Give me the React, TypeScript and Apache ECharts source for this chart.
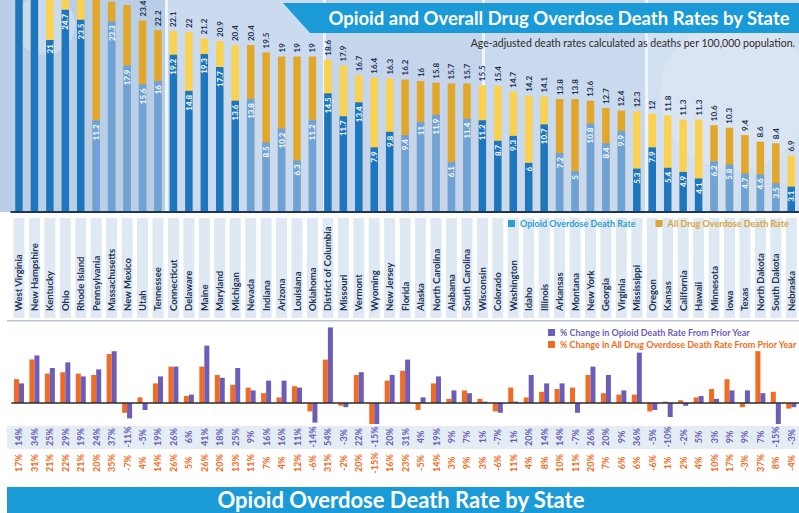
import React, { useEffect, useRef } from "react";
import * as echarts from "echarts";

const states = [
  "West Virginia", "New Hampshire", "Kentucky", "Ohio", "Rhode Island", "Pennsylvania", "Massachusetts",
  "New Mexico", "Utah", "Tennessee", "Connecticut", "Delaware", "Maine", "Maryland", "Michigan", "Nevada",
  "Indiana", "Arizona", "Louisiana", "Oklahoma", "District of Columbia", "Missouri", "Vermont", "Wyoming",
  "New Jersey", "Florida", "Alaska", "North Carolina", "Alabama", "South Carolina", "Wisconsin", "Colorado",
  "Washington", "Idaho", "Illinois", "Arkansas", "Montana", "New York", "Georgia", "Virginia", "Mississippi",
  "Oregon", "Kansas", "California", "Hawaii", "Minnesota", "Iowa", "Texas", "North Dakota", "South Dakota",
  "Nebraska",
];

const allDrugRate = [
  41.5, 34.3, 29.9, 29.9, 28.2, 26.3, 25.7, 25.3, 23.4, 22.2, 22.1, 22, 21.2, 20.9, 20.4, 20.4, 19.5, 19, 19, 19,
  18.6, 17.9, 16.7, 16.4, 16.3, 16.2, 16, 15.8, 15.7, 15.7, 15.5, 15.4, 14.7, 14.2, 14.1, 13.8, 13.8, 13.6, 12.7,
  12.4, 12.3, 12, 11.8, 11.3, 11.3, 10.6, 10.3, 9.4, 8.6, 8.4, 6.9,
];

const opioidRate = [
  36.0, 31.3, 21, 24.7, 23.5, 11.2, 23.3, 17.9, 15.6, 16.0, 19.2, 14.8, 19.3, 17.7, 13.6, 13.8, 8.5, 10.2, 6.3,
  11.2, 14.5, 11.7, 13.4, 7.9, 9.8, 9.4, 11, 11.9, 6.1, 11.4, 11.2, 8.7, 9.3, 6, 10.7, 7.2, 5, 10.8, 8.4, 9.9, 5.3,
  7.9, 5.4, 4.9, 4.1, 6.2, 5.8, 4.7, 4.6, 3.5, 3.1,
];

const opioidChange = [
  14, 34, 25, 29, 19, 24, 37, -11, -5, 19, 26, 6, 41, 18, 25, 9, 16, 16, 11, -14, 54, -3, 22, -15, 20, 31, 4, 19,
  9, 7, 1, -7, 1, 20, 14, 14, -7, 26, 20, 9, 36, -5, -10, -2, 5, 3, 9, 9, 7, -15, -3,
];

const allDrugChange = [
  17, 31, 21, 22, 21, 20, 35, -7, 4, 14, 26, 5, 26, 20, 13, 11, 7, 4, 12, -6, 31, -2, 20, -15, 16, 23, -5, 14, 3,
  9, 3, -6, 11, 4, 8, 10, 11, 20, 7, 6, 6, -6, 1, 2, 4, 10, 17, -3, 37, 8, -4,
];

const FONT = "Lato";
const GRID_LEFT = 11.25;
const GRID_WIDTH = 790.5;
const Y_MAX = 25.9;

export default function App() {
  const ref = useRef<HTMLDivElement>(null);

  useEffect(() => {
    if (!ref.current) return;
    const chart = echarts.init(ref.current, null, { renderer: "svg" });
    const even = (i: number) => Math.floor(i / 5) % 2 === 0;

    // labels whose position would fall beyond the visible top of the plot are not shown (as in the original crop)
    const totalData = allDrugRate.map((v, i) => ({
      value: v,
      itemStyle: { color: even(i) ? "#fbd24f" : "#e2a729" },
      label: { show: v < Y_MAX - 1.5 },
    }));
    const opioidData = opioidRate.map((v, i) => ({
      value: v,
      itemStyle: { color: even(i) ? "#1c76c0" : "#6ea3da" },
      label: { show: v < Y_MAX },
    }));

    const panel = (x: number, w: number, fill: string) => ({
      type: "rect",
      z: -10,
      shape: { x, y: 0, width: w, height: 212 },
      style: { fill },
      silent: true,
    });

    const option = {
      animation: false,
      backgroundColor: "#ffffff",
      textStyle: { fontFamily: FONT },
      grid: [
        { left: GRID_LEFT, width: GRID_WIDTH, top: 0, height: 212 },
        { left: GRID_LEFT, width: GRID_WIDTH, top: 218, height: 100 },
        { left: GRID_LEFT, width: GRID_WIDTH, top: 319, height: 112 },
      ],
      legend: [
        {
          left: 503,
          top: 214,
          itemWidth: 7,
          itemHeight: 7,
          itemGap: 20,
          icon: "rect",
          selectedMode: false,
          z: 20,
          textStyle: { fontSize: 9, fontWeight: "bold", fontFamily: FONT },
          data: [
            { name: "Opioid Overdose Death Rate", textStyle: { color: "#2a9fd6" } },
            { name: "All Drug Overdose Death Rate", textStyle: { color: "#d9a53a" } },
          ],
        },
        {
          left: 543,
          top: 323,
          orient: "vertical",
          itemWidth: 7,
          itemHeight: 7,
          itemGap: 3,
          icon: "rect",
          selectedMode: false,
          textStyle: { fontSize: 9, fontWeight: "bold", fontFamily: FONT },
          data: [
            { name: "% Change in Opioid Death Rate From Prior Year", textStyle: { color: "#6c5db8" } },
            { name: "% Change in All Drug Overdose Death Rate From Prior Year", textStyle: { color: "#f26b22" } },
          ],
        },
      ],
      xAxis: [
        {
          gridIndex: 0,
          type: "category",
          data: states,
          z: 20,
          axisLine: { lineStyle: { color: "#1d3557", width: 2 } },
          axisTick: { show: false },
          axisLabel: {
            interval: 0,
            rotate: 90,
            align: "left",
            verticalAlign: "middle",
            margin: 99,
            color: "#22335a",
            fontSize: 9.5,
            fontWeight: "bold",
            fontFamily: FONT,
          },
        },
        { gridIndex: 1, type: "category", data: states, show: false },
        {
          gridIndex: 2,
          type: "category",
          data: states,
          position: "bottom",
          axisLine: { show: false, onZero: false },
          axisTick: { show: false },
          axisLabel: {
            interval: 0,
            rotate: 90,
            align: "center",
            verticalAlign: "middle",
            margin: 6,
            color: "#6c5db8",
            fontSize: 9,
            fontWeight: "bold",
            fontFamily: FONT,
            formatter: (_v: string, i: number) => opioidChange[i] + "%",
          },
        },
        {
          gridIndex: 2,
          type: "category",
          data: states,
          position: "bottom",
          offset: 26,
          axisLine: { show: false, onZero: false },
          axisTick: { show: false },
          axisLabel: {
            interval: 0,
            rotate: 90,
            align: "center",
            verticalAlign: "middle",
            margin: 6,
            color: "#f26b22",
            fontSize: 9,
            fontWeight: "bold",
            fontFamily: FONT,
            formatter: (_v: string, i: number) => allDrugChange[i] + "%",
          },
        },
      ],
      yAxis: [
        { gridIndex: 0, type: "value", min: 0, max: Y_MAX, show: false },
        { gridIndex: 1, type: "value", min: 0, max: 1, show: false },
        { gridIndex: 2, type: "value", min: -20, max: 60, show: false },
      ],
      series: [
        {
          name: "stripes",
          type: "bar",
          xAxisIndex: 1,
          yAxisIndex: 1,
          data: states.map(() => 1),
          barWidth: 11,
          silent: true,
          itemStyle: { color: "#dfe9f3" },
          z: 1,
        },
        {
          name: "All Drug Overdose Death Rate",
          type: "bar",
          xAxisIndex: 0,
          yAxisIndex: 0,
          barWidth: 7.5,
          clip: false,
          data: totalData,
          itemStyle: { color: "#d9a53a" },
          label: {
            show: true,
            position: "top",
            rotate: 90,
            align: "left",
            verticalAlign: "middle",
            distance: 4,
            color: "#1e2f50",
            fontSize: 8,
            fontWeight: "bold",
            fontFamily: FONT,
          },
        },
        {
          name: "Opioid Overdose Death Rate",
          type: "bar",
          xAxisIndex: 0,
          yAxisIndex: 0,
          barWidth: 7.5,
          barGap: "-100%",
          clip: false,
          data: opioidData,
          itemStyle: { color: "#2a9fd6" },
          label: {
            show: true,
            position: "insideTop",
            rotate: 90,
            align: "right",
            verticalAlign: "middle",
            distance: 4,
            color: "#ffffff",
            fontSize: 8,
            fontWeight: "bold",
            fontFamily: FONT,
          },
        },
        {
          name: "% Change in All Drug Overdose Death Rate From Prior Year",
          type: "bar",
          xAxisIndex: 2,
          yAxisIndex: 2,
          barWidth: 5,
          barGap: "0%",
          data: allDrugChange,
          itemStyle: { color: "#f26b22" },
        },
        {
          name: "% Change in Opioid Death Rate From Prior Year",
          type: "bar",
          xAxisIndex: 2,
          yAxisIndex: 2,
          barWidth: 5,
          barGap: "0%",
          data: opioidChange,
          itemStyle: { color: "#6c5db8" },
          markLine: {
            silent: true,
            symbol: "none",
            label: { show: false },
            lineStyle: { color: "#2d2d2d", width: 1.5, type: "solid" },
            data: [{ yAxis: 0 }],
          },
        },
      ],
      graphic: [
        panel(0, 165, "#b9cfe8"),
        panel(165, 3, "#eef4fb"),
        panel(168, 155, "#cbdbef"),
        panel(323, 3, "#eef4fb"),
        panel(326, 156, "#c4d5ec"),
        panel(482, 3, "#eef4fb"),
        panel(485, 160, "#c9d9ee"),
        panel(645, 3, "#eef4fb"),
        panel(648, 151, "#d2e0f1"),
        {
          type: "circle",
          z: -9,
          shape: { cx: 45, cy: 25, r: 30 },
          style: { fill: "rgba(255,255,255,0.25)" },
          silent: true,
        },
        {
          type: "circle",
          z: -9,
          shape: { cx: 735, cy: 95, r: 75 },
          style: { fill: "rgba(255,255,255,0.18)" },
          silent: true,
        },
        {
          type: "polygon",
          z: 100,
          shape: { points: [[283, 3], [799, 3], [799, 33], [310, 33]] },
          style: { fill: "#1a9ad6" },
          silent: true,
        },
        {
          type: "text",
          z: 101,
          x: 559,
          y: 18,
          style: {
            text: "Opioid and Overall Drug Overdose Death Rates by State",
            fill: "#ffffff",
            font: `bold 18.5px ${FONT}`,
            align: "center",
            verticalAlign: "middle",
          },
          silent: true,
        },
        {
          type: "text",
          z: 101,
          x: 795,
          y: 43,
          style: {
            text: "Age-adjusted death rates calculated as deaths per 100,000 population.",
            fill: "#2b2b2b",
            font: `10.5px ${FONT}`,
            align: "right",
            verticalAlign: "middle",
          },
          silent: true,
        },
        {
          type: "rect",
          z: -5,
          shape: { x: 7, y: 320, width: 792, height: 1.5 },
          style: { fill: "#b9c5d1" },
          silent: true,
        },
        {
          type: "rect",
          z: -5,
          shape: { x: 7, y: 426, width: 792, height: 23 },
          style: { fill: "#e5edf4" },
          silent: true,
        },
        {
          type: "rect",
          z: 100,
          shape: { x: 7, y: 487, width: 792, height: 30 },
          style: { fill: "#1a9ad6" },
          silent: true,
        },
        {
          type: "text",
          z: 101,
          x: 401,
          y: 499,
          style: {
            text: "Opioid Overdose Death Rate by State",
            fill: "#ffffff",
            font: `bold 22px ${FONT}`,
            align: "center",
            verticalAlign: "middle",
          },
          silent: true,
        },
      ],
    };

    chart.setOption(option as any);
    return () => chart.dispose();
  }, []);

  return (
    <div
      ref={ref}
      style={{ position: "fixed", left: 0, top: 0, width: 799, height: 513, background: "#ffffff" }}
    />
  );
}
